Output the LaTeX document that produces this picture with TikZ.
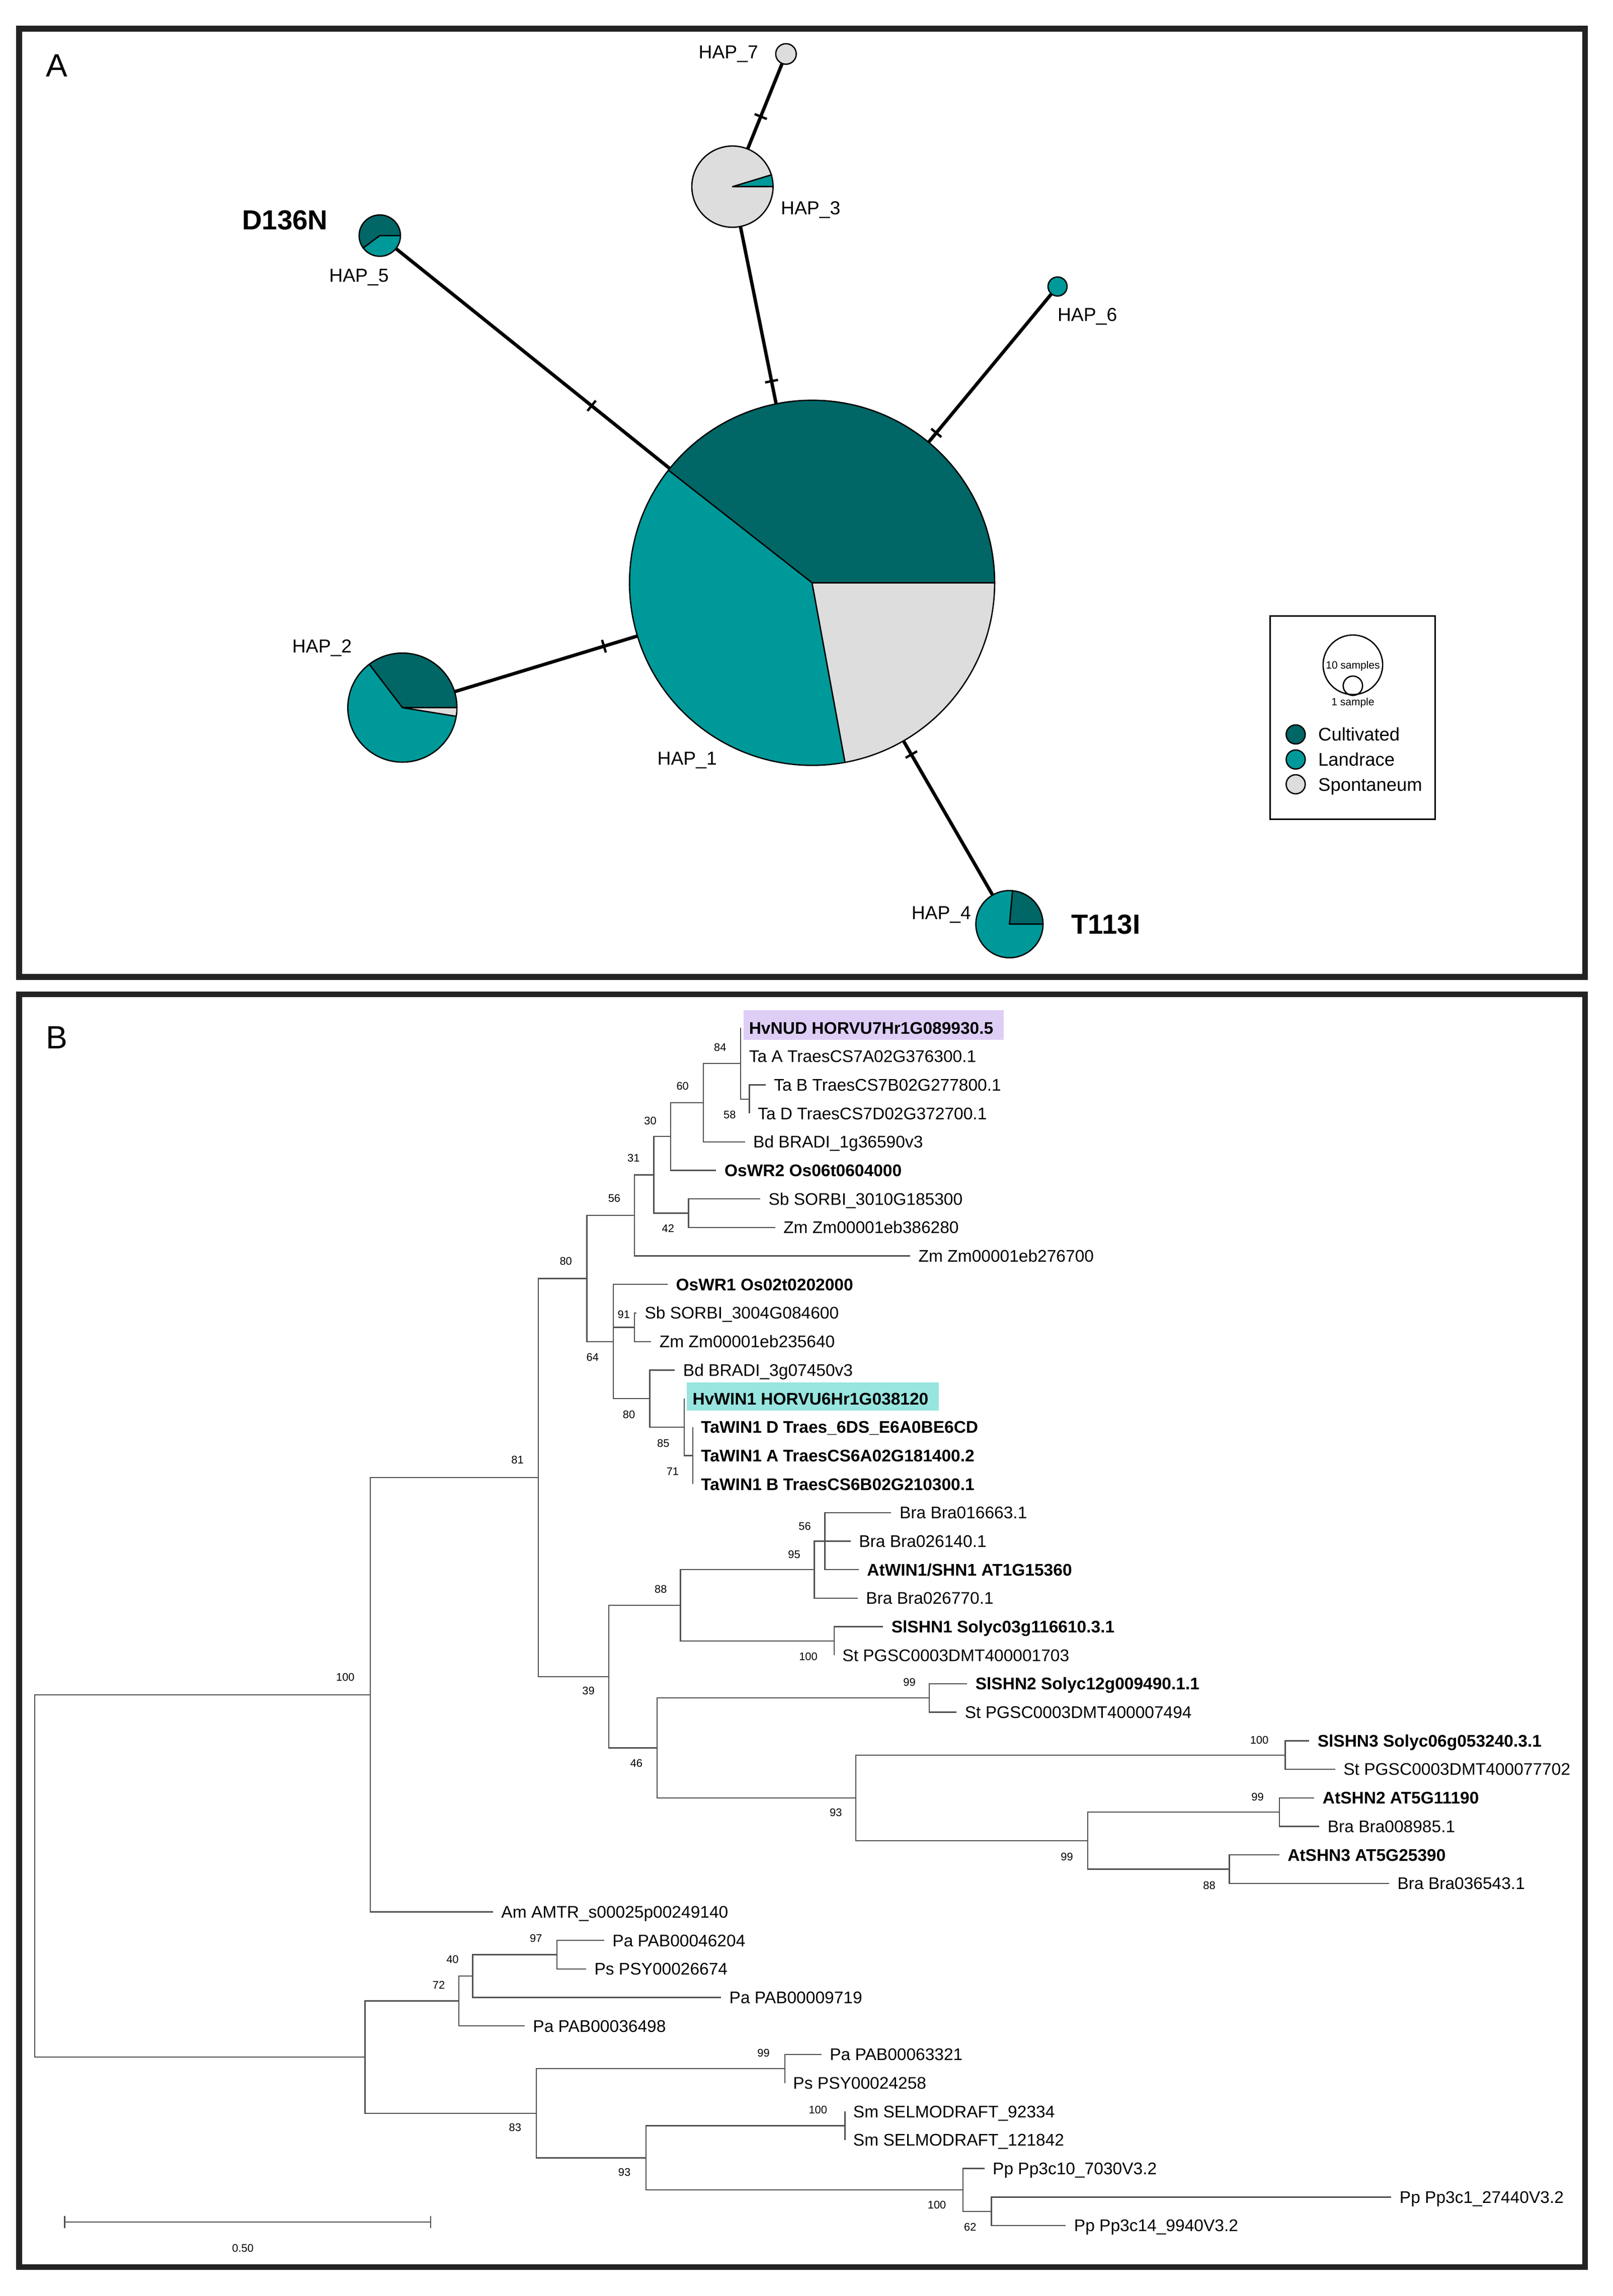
\documentclass[tikz,border=0pt]{standalone}
\usepackage{fontspec}
\setmainfont{Liberation Sans}
\usetikzlibrary{decorations.markings}
\definecolor{cult}{RGB}{0,102,102}
\definecolor{land}{RGB}{0,153,153}
\definecolor{spon}{RGB}{221,221,221}
\definecolor{nudbg}{RGB}{222,206,246}
\definecolor{winbg}{RGB}{152,229,224}
\definecolor{treegray}{RGB}{80,80,80}
\definecolor{framegray}{RGB}{35,35,35}
\tikzset{
  mut/.style={decoration={
    markings,
    mark=at position #1 with {\draw[line width=1.6pt] (0,-4.5pt) -- (0,4.5pt);}},
    postaction={decorate}},
  hapedge/.style={line width=2.3pt},
  pieslice/.style={draw=black, line width=0.9pt, line join=round},
  branch/.style={draw=treegray, line width=0.8pt},
  leaf/.style={anchor=west, inner sep=0pt, xshift=5.5pt, text height=8.2pt, text depth=0pt, font=\fontsize{11.5}{13}\selectfont},
  bs/.style={inner sep=0pt, text height=5.4pt, text depth=0pt, font=\fontsize{7.5}{9}\selectfont},
  hap/.style={inner sep=0pt, text height=9.2pt, text depth=0pt, font=\fontsize{12.8}{14}\selectfont},
  mutlab/.style={inner sep=0pt, text height=13.5pt, text depth=0pt, font=\fontsize{18.8}{21}\selectfont\bfseries},
  legtext/.style={anchor=west, inner sep=0pt, text height=8.95pt, text depth=0pt, font=\fontsize{12.5}{14}\selectfont},
  small/.style={inner sep=0pt, text height=5.2pt, text depth=0pt, font=\fontsize{7.2}{8}\selectfont},
  panel/.style={draw=framegray, line width=4pt}
}

\begin{document}
\begin{tikzpicture}[x=1pt,y=1pt]
  \useasboundingbox (0,0) rectangle (1100,-1565.94);

  % Panel frames
  \draw[panel] (13,-19.5) rectangle (1081,-666.3);
  \draw[panel] (13,-678.2) rectangle (1081,-1546.2);
  \node[inner sep=0pt, font=\fontsize{22}{24}\selectfont] (labA) at (38.6,-44.6) {A};
  \node[inner sep=0pt, font=\fontsize{22}{24}\selectfont] (labB) at (38.6,-707.5) {B};

  % Haplotype centres
  \coordinate (hap1) at (553.8,-397.5);
  \coordinate (hap2) at (274.4,-482.6);
  \coordinate (hap3) at (499.5,-127.3);
  \coordinate (hap4) at (688.4,-630.3);
  \coordinate (hap5) at (259,-160.7);
  \coordinate (hap6) at (721.2,-195.4);
  \coordinate (hap7) at (536,-36.8);

  % Network edges, one tick per mutation
  \draw[hapedge, mut=0.472] (hap7) -- (hap3);
  \draw[hapedge, mut=0.491] (hap3) -- (hap1);
  \draw[hapedge, mut=0.49] (hap5) -- (hap1);
  \draw[hapedge, mut=0.494] (hap6) -- (hap1);
  \draw[hapedge, mut=0.492] (hap2) -- (hap1);
  \draw[hapedge, mut=0.497] (hap4) -- (hap1);

  % Pie charts
  \foreach \h/\a/\b/\r/\col in {hap1/0/141.9/124.5/cult, hap1/141.9/280.4/124.5/land, hap1/280.4/360/124.5/spon,
      hap2/0/127.4/37.2/cult, hap2/127.4/350.8/37.2/land, hap2/350.8/360/37.2/spon,
      hap3/0/16.9/27.7/land, hap3/16.9/360/27.7/spon,
      hap4/0/84.8/22.9/cult, hap4/84.8/360/22.9/land,
      hap5/0/216.7/14.1/cult, hap5/216.7/360/14.1/land}
    \filldraw[pieslice, fill=\col] (\h) -- ++(\a:\r) arc (\a:\b:\r) -- cycle;
  \filldraw[pieslice, fill=land] (hap6) circle (6.5);
  \filldraw[pieslice, fill=spon] (hap7) circle (7);

  % Haplotype labels
  \node[hap] (t1) at (468.6,-517.2) {HAP\_1};
  \node[hap] (t2) at (219.6,-440.6) {HAP\_2};
  \node[hap] (t3) at (552.8,-141.7) {HAP\_3};
  \node[hap] (t4) at (641.9,-622.5) {HAP\_4};
  \node[hap] (t5) at (244.8,-187.6) {HAP\_5};
  \node[hap] (t6) at (741.5,-214.4) {HAP\_6};
  \node[hap] (t7) at (496.7,-35.5) {HAP\_7};
  \node[mutlab] (d136) at (194.3,-149.9) {D136N};
  \node[mutlab] (t113) at (754.1,-630.3) {T113I};

  % Legend
  \draw[line width=1pt] (866.2,-420.2) rectangle (978.8,-558.6);
  \draw[line width=0.9pt] (922.6,-453.4) circle (20.3);
  \draw[line width=0.9pt] (922.6,-467.7) circle (6.6);
  \node[small] (ten) at (922.6,-453.5) {10 samples};
  \node[small] (one) at (922.6,-478.6) {1 sample};
  \foreach \col/\txt/\y in {cult/Cultivated/500.9, land/Landrace/518, spon/Spontaneum/534.9} {
    \filldraw[pieslice, fill=\col] (883.6,-\y) circle (6.5);
    \node[legtext] (leg\col) at (898.8,-\y) {\txt};
  }

  % Highlighted barley genes
  \fill[nudbg] (507.2,-688.8) rectangle (684.5,-709.1);
  \fill[winbg] (468.3,-942.7) rectangle (640.4,-962.1);

  % Leaves: tip and label
  \foreach \nm/\x/\txt [count=\i from 0] in {
      HvNUD/505.1/{\textbf{HvNUD HORVU7Hr1G089930.5}},
      TaA/505.1/{Ta A TraesCS7A02G376300.1},
      TaB/522.1/{Ta B TraesCS7B02G277800.1},
      TaD/511.1/{Ta D TraesCS7D02G372700.1},
      BdA/508/{Bd BRADI\_1g36590v3},
      OsWR2/488.4/{\textbf{OsWR2 Os06t0604000}},
      SbA/518.4/{Sb SORBI\_3010G185300},
      ZmA/528.6/{Zm Zm00001eb386280},
      ZmB/620.7/{Zm Zm00001eb276700},
      OsWR1/455.3/{\textbf{OsWR1 Os02t0202000}},
      SbB/434/{Sb SORBI\_3004G084600},
      ZmC/444.1/{Zm Zm00001eb235640},
      BdB/460.2/{Bd BRADI\_3g07450v3},
      HvWIN1/466.6/{\textbf{HvWIN1 HORVU6Hr1G038120}},
      TaWD/472.4/{\textbf{TaWIN1 D Traes\_6DS\_E6A0BE6CD}},
      TaWA/472.4/{\textbf{TaWIN1 A TraesCS6A02G181400.2}},
      TaWB/472.4/{\textbf{TaWIN1 B TraesCS6B02G210300.1}},
      BraA/607.8/{Bra Bra016663.1},
      BraB/580.1/{Bra Bra026140.1},
      AtWIN1/585.6/{\textbf{AtWIN1/SHN1 AT1G15360}},
      BraC/584.9/{Bra Bra026770.1},
      SlSHN1/602.2/{\textbf{SlSHN1 Solyc03g116610.3.1}},
      StA/568.8/{St PGSC0003DMT400001703},
      SlSHN2/659.5/{\textbf{SlSHN2 Solyc12g009490.1.1}},
      StB/652.3/{St PGSC0003DMT400007494},
      SlSHN3/892.8/{\textbf{SlSHN3 Solyc06g053240.3.1}},
      StC/910.5/{St PGSC0003DMT400077702},
      AtSHN2/896.3/{\textbf{AtSHN2 AT5G11190}},
      BraD/899.7/{Bra Bra008985.1},
      AtSHN3/872.4/{\textbf{AtSHN3 AT5G25390}},
      BraE/947.3/{Bra Bra036543.1},
      Am/336.2/{Am AMTR\_s00025p00249140},
      PaA/412/{Pa PAB00046204},
      PsA/399.7/{Ps PSY00026674},
      PaB/491.7/{Pa PAB00009719},
      PaC/357.8/{Pa PAB00036498},
      PaD/560.2/{Pa PAB00063321},
      PsB/535.2/{Ps PSY00024258},
      SmA/576.2/{Sm SELMODRAFT\_92334},
      SmB/576.2/{Sm SELMODRAFT\_121842},
      PpA/671.3/{Pp Pp3c10\_7030V3.2},
      PpB/948.8/{Pp Pp3c1\_27440V3.2},
      PpC/726.8/{Pp Pp3c14\_9940V3.2}} {
    \coordinate (\nm) at (\x,{-701-19.45*\i});
    \node[leaf] (\nm-txt) at (\nm) {\txt};
  }

  % Internal nodes
  \foreach \nm/\x/\y in {n58/511.1/749.63, n84/505.1/725.31, n60/479.6/752.06, n30/457.3/775.16,
      n42/469.5/827.43, n31/445.9/801.29, n56a/432.6/828.95, n91/432.6/905.23,
      n71/472.4/992.75, n85/466.6/973.3, n80b/443.1/953.85, n64/418.3/914.95,
      n80a/400.2/871.95, n56b/562.5/1051.1, n95/555.3/1070.55, n100b/568.8/1119.18,
      n88/464.1/1094.86, n99a/633.8/1158.08, n100c/876.5/1196.98, n99d/872.4/1235.88,
      n88b/838.4/1274.78, n99c/741.7/1255.33, n93a/583.7/1226.15, n46/448.2/1192.11,
      n39/415.2/1143.49, n81/367.1/1007.72, n100a/252.6/1155.84, n97/379.7/1333.13,
      n40/322.3/1347.71, n72/312.9/1364.73, n99e/535.2/1410.93, n100d/576.2/1449.83,
      n62/676.1/1508.18, n100e/656.8/1493.59, n93b/440.6/1471.71, n83/365.7/1441.32,
      nlow/248.9/1403.03, root/23.6/1279.44}
    \coordinate (\nm) at (\x,-\y);

  % Branches
  \foreach \p/\c in {n58/TaB, n58/TaD, n84/HvNUD, n84/TaA, n84/n58, n60/n84, n60/BdA,
      n30/n60, n30/OsWR2, n42/SbA, n42/ZmA, n31/n30, n31/n42, n56a/n31, n56a/ZmB,
      n91/SbB, n91/ZmC, n71/TaWD, n71/TaWA, n71/TaWB, n85/HvWIN1, n85/n71,
      n80b/BdB, n80b/n85, n64/OsWR1, n64/n91, n64/n80b, n80a/n56a, n80a/n64,
      n56b/BraA, n56b/BraB, n56b/AtWIN1, n95/n56b, n95/BraC, n100b/SlSHN1, n100b/StA,
      n88/n95, n88/n100b, n99a/SlSHN2, n99a/StB, n100c/SlSHN3, n100c/StC,
      n99d/AtSHN2, n99d/BraD, n88b/AtSHN3, n88b/BraE, n99c/n99d, n99c/n88b,
      n93a/n100c, n93a/n99c, n46/n99a, n46/n93a, n39/n88, n39/n46, n81/n80a, n81/n39,
      n100a/n81, n100a/Am, n97/PaA, n97/PsA, n40/n97, n40/PaB, n72/n40, n72/PaC,
      n99e/PaD, n99e/PsB, n100d/SmA, n100d/SmB, n62/PpB, n62/PpC, n100e/PpA, n100e/n62,
      n93b/n100d, n93b/n100e, n83/n99e, n83/n93b, nlow/n72, nlow/n83,
      root/n100a, root/nlow}
    \draw[branch] (\p) |- (\c);

  % Bootstrap values
  \foreach \v/\x/\y [count=\k] in {84/491.1/714.1, 60/465.5/740.7, 58/497.6/760.1, 30/443.5/764.2,
      31/432.1/789.7, 56/418.9/817.2, 42/455.6/837.7, 80/385.9/860, 91/425.4/896.4,
      64/404.1/925.7, 80/428.9/964.7, 85/452.3/984.2, 71/458.7/1003.6, 81/352.9/995.7,
      56/548.8/1040.7, 95/541.6/1060.1, 88/450.6/1083.6, 100/551.2/1129.6, 39/401.3/1153.2,
      99/620.2/1147.1, 46/434/1202.3, 93/570/1236, 100/858.8/1186.5, 99/857.6/1225.5,
      99/727.6/1266.2, 88/824.7/1285.7, 100/235.5/1143.7, 97/365.5/1322, 40/308.6/1336.3,
      72/299.2/1353.6, 83/351.3/1450.8, 99/520.7/1400, 100/557.8/1439, 93/425.8/1481.5,
      100/638.9/1503.8, 62/661.6/1518.7}
    \node[bs] (bs\k) at (\x,-\y) {\v};

  % Scale bar
  \coordinate (sbL) at (44.1,-1515.5);
  \coordinate (sbR) at (293.6,-1515.5);
  \draw[branch] (sbL) -- (sbR);
  \draw[branch] ([yshift=4pt]sbL) -- ([yshift=-4pt]sbL);
  \draw[branch] ([yshift=4pt]sbR) -- ([yshift=-4pt]sbR);
  \node[bs] (sbtxt) at (165.6,-1533.3) {0.50};
\end{tikzpicture}
\end{document}
